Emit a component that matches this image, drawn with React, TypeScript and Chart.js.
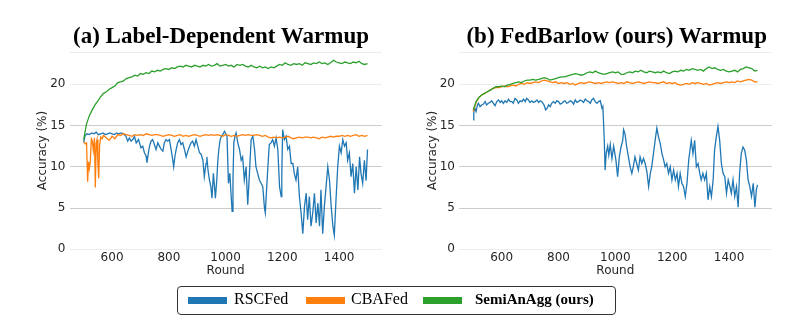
import React, { useEffect, useRef } from "react";
import { Chart, registerables } from "chart.js";

Chart.register(...registerables);

// ---------- data ----------
const SERIES_NAMES = ["RSCFed", "CBAFed", "SemiAnAgg (ours)"];
const COLORS = ["#1f77b4", "#ff7f0e", "#2ca02c"];
const TITLES = ["(a) Label-Dependent Warmup", "(b) FedBarlow (ours) Warmup"];
const X_TICKS = [600, 800, 1000, 1200, 1400];
const Y_TICKS = [0, 5, 10, 15, 20];

// rounds 500..1500 every 10 rounds (category grid for the smooth curves)
const ROUNDS_10 = Array.from({ length: 101 }, (_, i) => 500 + i * 10);

// ----- panel (a) -----
const greenA = [
  13.3, 15.2, 16.2, 16.9, 17.5, 18.0, 18.5, 18.9, 19.1, 19.4,
  19.6, 19.8, 20.2, 20.3, 20.4, 20.7, 20.8, 20.9, 21.1, 21.0,
  21.3, 21.2, 21.4, 21.3, 21.6, 21.5, 21.7, 21.6, 21.8, 21.9,
  21.8, 22.0, 21.9, 22.1, 22.2, 22.1, 22.3, 22.2, 22.1, 22.3,
  22.2, 22.1, 22.3, 22.2, 22.4, 22.2, 22.3, 22.5, 22.2, 22.3,
  22.4, 22.2, 22.3, 22.1, 22.4, 22.3, 22.4, 22.2, 22.1, 22.3,
  22.1, 22.0, 22.2, 22.0, 22.1, 21.9, 22.1, 22.0, 22.2, 22.4,
  22.3, 22.6, 22.4, 22.3, 22.5, 22.4, 22.5, 22.3, 22.6, 22.5,
  22.4, 22.6, 22.5, 22.7, 22.5, 22.6, 22.4, 22.6, 22.9, 22.7,
  22.6, 22.5, 22.7, 22.6, 22.5, 22.7, 22.6, 22.8, 22.5, 22.4,
  22.5,
];

const orangeAEarlyRounds = [500, 505, 510, 514, 517, 520, 523, 527, 530, 534, 538, 541, 544, 547, 550, 553, 556, 560, 565, 570];
const orangeAEarly = [13.0, 12.8, 12.9, 8.2, 10.6, 9.8, 10.5, 13.4, 13.2, 12.0, 13.5, 7.5, 12.8, 13.3, 10.5, 8.6, 12.6, 13.6, 13.4, 13.8];
// from round 580 to 1500 every 10 rounds
const orangeALate = [
  13.5, 13.2, 13.7, 13.4, 13.9, 13.8, 14.0, 13.9, 13.8, 13.7,
  13.9, 13.8, 13.9, 13.8, 14.0, 13.9, 13.8, 13.9, 13.9, 13.8,
  13.7, 13.8, 13.9, 13.8, 13.7, 13.8, 13.9, 13.7, 13.8, 13.7,
  13.8, 13.9, 13.8, 13.7, 13.8, 13.9, 13.8, 13.9, 13.8, 13.9,
  13.8, 13.7, 13.9, 13.8, 13.7, 13.8, 13.7, 13.8, 13.9, 13.8,
  13.9, 13.8, 13.8, 13.9, 13.8, 13.7, 13.8, 13.6, 13.5, 13.6,
  13.5, 13.6, 13.5, 13.6, 13.7, 13.5, 13.4, 13.5, 13.6, 13.5,
  13.6, 13.6, 13.5, 13.6, 13.5, 13.4, 13.6, 13.5, 13.6, 13.7,
  13.6, 13.7, 13.7, 13.8, 13.7, 13.8, 13.7, 13.8, 13.9, 13.7,
  13.8, 13.7, 13.8,
];

const blueARounds = [
  500, 505, 512, 520, 528, 536, 544, 552, 560, 568, 576, 584, 592, 600, 608, 616, 624, 632, 640,
  649, 655, 661, 667, 673, 679, 685, 693, 702, 708, 714, 720, 723, 728, 732, 737, 743, 749, 755,
  761, 767, 773, 779, 784, 790, 796, 802, 808, 814, 817, 822, 826, 831, 837, 843, 849, 855, 861,
  867, 873, 878, 884, 890, 896, 902, 908, 914, 920, 925, 931, 934, 938, 943, 948, 952, 957, 961,
  964, 969, 972, 976, 981, 985, 990, 996, 1005, 1010, 1015, 1019, 1023, 1026, 1029, 1033, 1037,
  1043, 1049, 1055, 1060, 1066, 1072, 1078, 1084, 1090, 1096, 1102, 1107, 1113, 1119, 1125, 1131,
  1137, 1140, 1143, 1149, 1154, 1160, 1166, 1172, 1178, 1184, 1190, 1196, 1198, 1201, 1207, 1213,
  1219, 1225, 1231, 1237, 1242, 1248, 1254, 1260, 1266, 1272, 1278, 1284, 1289, 1295, 1301, 1307,
  1313, 1319, 1325, 1331, 1336, 1342, 1348, 1354, 1360, 1366, 1372, 1378, 1383, 1389, 1395, 1401,
  1407, 1413, 1419, 1425, 1430, 1436, 1442, 1448, 1454, 1460, 1466, 1472, 1477, 1483, 1489, 1495,
  1500,
];
const blueAValues = [
  13.0, 13.8, 14.0, 13.9, 14.1, 14.0, 14.2, 13.9, 14.0, 14.1, 13.9, 14.0, 14.1, 14.0, 13.9, 14.1, 14.0, 14.1, 14.0,
  13.7, 13.1, 13.5, 13.1, 13.3, 13.7, 12.9, 13.3, 12.3, 12.5, 11.7, 11.3, 10.5, 11.7, 12.5, 13.1, 13.3, 12.7, 12.1,
  12.9, 12.5, 12.1, 11.9, 12.9, 13.3, 13.1, 13.3, 12.1, 10.8, 10.0, 11.4, 12.1, 12.9, 13.3, 12.7, 12.9, 12.1, 11.2,
  11.9, 12.5, 12.9, 13.1, 12.5, 13.3, 12.5, 11.7, 11.5, 10.8, 8.8, 10.4, 11.2, 9.6, 8.4, 7.6, 6.2, 9.2, 7.6,
  6.2, 8.4, 10.4, 12.1, 13.3, 13.7, 13.9, 14.3, 13.7, 8.0, 9.2, 6.8, 4.6, 8.4, 12.9, 13.7, 14.1,
  12.9, 12.1, 10.8, 11.2, 8.4, 10.0, 5.4, 9.2, 13.3, 13.7, 12.1, 10.0, 9.2, 8.4, 8.0, 7.6,
  5.0, 4.4, 6.4, 10.0, 12.7, 12.9, 13.3, 12.5, 13.5, 12.1, 7.6, 6.4, 9.0, 14.5, 13.3, 13.7,
  12.1, 12.5, 10.4, 10.4, 9.2, 8.4, 10.0, 6.4, 4.4, 1.9, 5.2, 6.8, 3.6, 6.4, 2.8, 4.4,
  6.8, 3.2, 5.6, 2.8, 7.2, 1.9, 5.2, 7.6, 10.0, 8.4, 5.2, 2.8, 1.7, 6.0, 10.0, 12.5,
  11.7, 13.3, 12.5, 12.9, 10.8, 11.7, 8.8, 10.4, 6.8, 10.0, 7.2, 11.2, 9.2, 8.0, 10.8, 8.3,
  12.1,
];

// ----- panel (b) -----
const greenB = [
  16.9, 17.9, 18.4, 18.7, 18.9, 19.1, 19.3, 19.5, 19.7, 19.7,
  19.8, 19.7, 19.9, 20.0, 20.1, 20.2, 20.3, 20.2, 20.4, 20.5,
  20.5, 20.6, 20.5, 20.6, 20.7, 20.8, 20.7, 20.5, 20.6, 20.7,
  20.8, 20.9, 20.9, 21.0, 21.1, 21.2, 21.3, 21.2, 21.1, 21.2,
  21.4, 21.5, 21.4, 21.6, 21.4, 21.3, 21.2, 21.3, 21.4, 21.5,
  21.4, 21.5, 21.2, 21.2, 21.4, 21.5, 21.4, 21.6, 21.5, 21.7,
  21.5, 21.4, 21.6, 21.5, 21.4, 21.5, 21.4, 21.6, 21.4, 21.3,
  21.5, 21.6, 21.5, 21.7, 21.6, 21.8, 21.7, 21.9, 21.8, 21.7,
  21.8, 21.6, 21.9, 22.1, 21.9, 22.0, 21.8, 21.7, 21.8, 21.6,
  21.5, 21.6, 21.7, 21.5, 21.8, 21.9, 22.1, 22.0, 21.9, 21.6,
  21.7,
];
const orangeB = [
  16.7, 17.8, 18.4, 18.7, 18.9, 19.1, 19.3, 19.5, 19.6, 19.6,
  19.7, 19.8, 19.7, 19.8, 19.9, 19.8, 20.0, 20.1, 20.0, 20.2,
  20.1, 20.2, 20.3, 20.2, 20.4, 20.5, 20.4, 20.3, 20.2, 20.3,
  20.1, 20.2, 20.1, 20.2, 20.0, 20.1, 19.9, 20.1, 20.2, 20.1,
  20.2, 20.3, 20.2, 20.1, 20.2, 20.1, 20.2, 20.3, 20.2, 20.3,
  20.2, 20.1, 20.2, 20.1, 20.3, 20.2, 20.1, 20.2, 20.3, 20.2,
  20.1, 20.2, 20.3, 20.2, 20.2, 20.1, 20.2, 20.3, 20.1, 20.2,
  20.1, 20.2, 20.0, 19.9, 20.0, 20.1, 20.0, 20.2, 20.1, 20.2,
  20.1, 20.0, 20.1, 19.9, 20.0, 20.1, 20.2, 20.1, 20.2, 20.3,
  20.2, 20.3, 20.2, 20.4, 20.3, 20.4, 20.5, 20.6, 20.5, 20.3,
  20.3,
];

const blueBRounds = [
  500, 502, 506, 510, 515, 518, 524, 530, 536, 542, 547, 553, 559, 565, 571, 577, 583, 589, 595,
  600, 606, 612, 618, 624, 630, 636, 641, 647, 653, 659, 665, 671, 677, 683, 688, 694, 700, 706,
  712, 718, 724, 730, 736, 741, 749, 755, 760, 765, 771, 776, 782, 788, 794, 800, 806, 812, 818,
  823, 829, 835, 841, 847, 853, 859, 865, 870, 876, 882, 888, 894, 900, 906, 912, 917, 923, 929,
  935, 941, 947, 953, 956, 961, 964, 968, 973, 977, 982, 988, 994, 1002, 1008, 1014, 1020, 1026,
  1029, 1034, 1040, 1046, 1052, 1058, 1063, 1069, 1075, 1081, 1087, 1093, 1099, 1105, 1111, 1117,
  1123, 1128, 1134, 1140, 1146, 1152, 1158, 1164, 1170, 1175, 1181, 1187, 1193, 1199, 1205, 1211,
  1217, 1222, 1228, 1234, 1240, 1246, 1252, 1258, 1264, 1267, 1273, 1279, 1285, 1291, 1297, 1302,
  1308, 1314, 1320, 1326, 1332, 1338, 1344, 1349, 1355, 1361, 1367, 1373, 1379, 1385, 1391, 1397,
  1403, 1408, 1414, 1420, 1426, 1432, 1437, 1443, 1449, 1455, 1461, 1467, 1473, 1479, 1485, 1491,
  1496, 1500,
];
const blueBValues = [
  15.7, 16.7, 17.1, 16.7, 17.5, 17.7, 17.3, 17.5, 17.6, 17.9, 17.5, 17.7, 17.8, 18.0, 17.7, 17.4, 17.9, 18.1, 17.8,
  18.0, 17.7, 18.0, 17.8, 18.2, 17.9, 17.9, 17.7, 18.3, 18.1, 17.7, 18.0, 17.9, 18.2, 17.9, 18.3, 18.1, 17.8, 18.0,
  17.8, 17.9, 18.1, 17.8, 18.0, 17.9, 17.5, 16.9, 17.1, 17.5, 17.3, 17.7, 17.9, 17.7, 18.0, 17.9, 17.6, 17.7, 17.9,
  18.0, 17.7, 17.8, 18.0, 17.9, 17.6, 18.1, 17.8, 17.9, 18.1, 18.0, 17.8, 18.2, 18.0, 17.9, 17.7, 18.1, 18.3, 17.9,
  17.7, 17.9, 18.0, 17.1, 17.3, 13.3, 9.6, 11.7, 12.5, 11.4, 12.7, 11.0, 12.5, 10.8, 8.8, 11.2, 12.4, 13.2,
  14.5, 14.0, 12.4, 11.2, 10.0, 9.2, 10.0, 11.2, 10.4, 9.6, 11.2, 10.4, 11.0, 10.4, 9.4, 7.6,
  9.2, 10.0, 11.6, 13.2, 14.7, 13.6, 12.8, 11.6, 10.8, 10.0, 10.4, 9.2, 10.0, 8.4, 9.6, 8.4,
  9.2, 7.6, 9.2, 8.0, 7.6, 6.4, 8.0, 10.8, 12.4, 13.2, 11.6, 13.2, 10.0, 10.4, 9.2, 8.4,
  9.2, 8.4, 9.2, 6.0, 7.6, 6.4, 8.4, 12.0, 13.6, 14.9, 13.2, 10.4, 9.2, 8.8, 6.8, 8.4,
  7.6, 6.8, 8.4, 6.4, 7.6, 5.1, 9.2, 11.6, 12.4, 12.0, 10.8, 8.4, 7.6, 6.4, 8.0, 5.1,
  7.2, 7.8,
];

// ---------- helpers ----------
const pts = (xs: number[], ys: number[]) => ys.map((y, i) => ({ x: xs[i], y }));

const FONT_SANS = "'DejaVu Sans', sans-serif";
const FONT_SERIF = "'Liberation Serif', 'Times New Roman', serif";
const TEXT_COLOR = "#262626";

const topLinePlugin = {
  id: "topLine",
  beforeDatasetsDraw(chart: any) {
    const { ctx, chartArea } = chart;
    ctx.save();
    ctx.strokeStyle = "#ececec";
    ctx.lineWidth = 1;
    const y = Math.round(chartArea.top) + 0.5;
    ctx.beginPath();
    ctx.moveTo(chartArea.left, y);
    ctx.lineTo(chartArea.right, y);
    ctx.stroke();
    ctx.restore();
  },
};

type PanelProps = {
  datasets: any[];
  left: number;
  width: number;
  yAxisWidth: number;
  padRight: number;
  yTitlePad: number;
};

const CANVAS_H = 290;
const AREA_TOP = 51.7;
const AREA_BOTTOM = 249.3;

function Panel({ datasets, left, width, yAxisWidth, padRight, yTitlePad }: PanelProps) {
  const ref = useRef<HTMLCanvasElement | null>(null);
  useEffect(() => {
    if (!ref.current) return;
    const chart = new Chart(ref.current, {
      type: "line",
      data: { datasets },
      options: {
        animation: false,
        responsive: false,
        devicePixelRatio: 1,
        layout: { padding: { left: 0, right: padRight, top: AREA_TOP, bottom: 0 } },
        plugins: {
          legend: { display: false },
          title: { display: false },
          tooltip: { enabled: false },
        },
        elements: {
          point: { radius: 0, hoverRadius: 0 },
          line: { borderWidth: 1.3, tension: 0 },
        },
        scales: {
          x: {
            type: "linear",
            min: 450,
            max: 1550,
            afterBuildTicks: (s: any) => {
              s.ticks = X_TICKS.map((v) => ({ value: v }));
            },
            ticks: {
              color: TEXT_COLOR,
              font: { family: FONT_SANS, size: 12 },
              padding: 1,
              maxRotation: 0,
              callback: (v: any) => String(v),
            },
            grid: { display: false, drawTicks: false },
            border: { display: false },
            title: {
              display: true,
              text: "Round",
              color: TEXT_COLOR,
              font: { family: FONT_SANS, size: 12 },
              padding: { top: 0, bottom: 11.8 },
            },
            afterFit: (s: any) => {
              s.height = CANVAS_H - AREA_BOTTOM;
            },
          },
          y: {
            type: "linear",
            min: 0,
            max: 23.95,
            afterBuildTicks: (s: any) => {
              s.ticks = Y_TICKS.map((v) => ({ value: v }));
            },
            ticks: {
              color: TEXT_COLOR,
              font: { family: FONT_SANS, size: 12 },
              padding: 4,
            },
            grid: {
              drawTicks: false,
              lineWidth: 1,
              color: (ctx: any) =>
                ctx.tick && (ctx.tick.value === 0 || ctx.tick.value === 20) ? "#ececec" : "#cccccc",
            },
            border: { display: false },
            title: {
              display: true,
              text: "Accuracy (%)",
              color: TEXT_COLOR,
              font: { family: FONT_SANS, size: 12 },
              padding: { top: yTitlePad, bottom: 0 },
            },
            afterFit: (s: any) => {
              s.width = yAxisWidth;
            },
          },
        },
      } as any,
      plugins: [topLinePlugin],
    });
    return () => chart.destroy();
  }, []);
  return (
    <canvas
      ref={ref}
      width={width}
      height={CANVAS_H}
      style={{ position: "absolute", left, top: 0, width, height: CANVAS_H }}
    />
  );
}

function makeDatasets(blue: any[], orange: any[], green: any[]) {
  return [
    { label: SERIES_NAMES[2], data: green, borderColor: COLORS[2], backgroundColor: COLORS[2], order: 0 },
    { label: SERIES_NAMES[1], data: orange, borderColor: COLORS[1], backgroundColor: COLORS[1], order: 1 },
    { label: SERIES_NAMES[0], data: blue, borderColor: COLORS[0], backgroundColor: COLORS[0], order: 2 },
  ];
}

export default function App() {
  const orangeARounds = [...orangeAEarlyRounds, ...ROUNDS_10.slice(8)];
  const orangeAValues = [...orangeAEarly, ...orangeALate];
  const dsA = makeDatasets(pts(blueARounds, blueAValues), pts(orangeARounds, orangeAValues), pts(ROUNDS_10, greenA));
  const dsB = makeDatasets(pts(blueBRounds, blueBValues), pts(ROUNDS_10, orangeB), pts(ROUNDS_10, greenB));

  const titleStyle = (center: number): React.CSSProperties => ({
    position: "absolute",
    left: center - 200,
    width: 400,
    top: 24,
    textAlign: "center",
    fontFamily: FONT_SERIF,
    fontWeight: "bold",
    fontSize: 23,
    lineHeight: "23px",
    color: "#000",
    whiteSpace: "nowrap",
  });

  const legendItems = [
    { patch: 188, text: 234, bold: false },
    { patch: 306, text: 351, bold: false },
    { patch: 423, text: 475, bold: true },
  ];

  return (
    <div style={{ position: "fixed", left: 0, top: 0, width: 810, height: 331, background: "#fff", overflow: "hidden" }}>
      <Panel datasets={dsA} left={0} width={400} yAxisWidth={69.5} padRight={18.3} yTitlePad={35.3} />
      <Panel datasets={dsB} left={405} width={405} yAxisWidth={54} padRight={38.3} yTitlePad={20.3} />
      <div style={titleStyle(221)}>{TITLES[0]}</div>
      <div style={titleStyle(616.7)}>{TITLES[1]}</div>
      <div
        style={{
          position: "absolute",
          left: 176.5,
          top: 285.5,
          width: 437,
          height: 27,
          border: "1px solid #333",
          borderRadius: 4,
          boxSizing: "content-box",
        }}
      />
      {legendItems.map((it, i) => (
        <React.Fragment key={i}>
          <div
            style={{
              position: "absolute",
              left: it.patch,
              top: 296.5,
              width: 39,
              height: 7,
              background: COLORS[i],
            }}
          />
          <div
            style={{
              position: "absolute",
              left: it.text,
              top: 290.5,
              fontFamily: FONT_SERIF,
              fontSize: it.bold ? 15 : 16,
              fontWeight: it.bold ? "bold" : "normal",
              lineHeight: "16px",
              color: "#000",
              whiteSpace: "nowrap",
            }}
          >
            {SERIES_NAMES[i]}
          </div>
        </React.Fragment>
      ))}
    </div>
  );
}
